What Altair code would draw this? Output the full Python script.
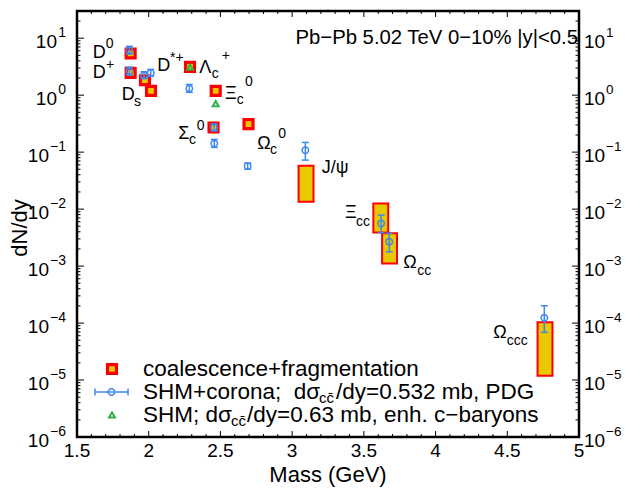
import altair as alt
import pandas as pd

# ---------------- data ----------------
# coalescence+fragmentation, single values (D0, D+, Ds, D*+, Lc, Xic0, Sigc0, Omc0)
coal_mass = [1.874, 1.874, 1.974, 2.016, 2.288, 2.467, 2.452, 2.696]
coal_val = [5.39, 2.46, 1.83, 1.19, 3.14, 1.19, 0.271, 0.31]

# coalescence+fragmentation, ranges (J/psi, Xicc, Omcc, Omccc)
box_mass = [3.097, 3.618, 3.679, 4.763]
box_lo = [0.0134, 0.0039, 0.00111, 1.19e-5]
box_hi = [0.0576, 0.0126, 0.00375, 1.03e-4]

# SHM+corona
shm_mass = [1.865, 1.865, 1.967, 2.014, 2.283, 2.457, 2.457, 2.690, 3.092, 3.620, 3.677, 4.758]
shm_val = [6.15, 2.64, 2.24, 2.46, 1.31, 0.271, 0.142, 0.0568, 0.108, 0.00561, 0.00267, 1.24e-4]
shm_lo = [5.25, 2.25, 1.95, 2.14, 1.12, 0.235, 0.121, 0.050, 0.0724, 0.00385, 0.00178, 6.87e-5]
shm_hi = [7.20, 3.10, 2.57, 2.83, 1.54, 0.312, 0.167, 0.0645, 0.148, 0.00785, 0.00375, 2.01e-4]

# SHM, enhanced c-baryons
enh_mass = [2.288, 2.467]
enh_val = [3.10, 0.71]

# particle labels
lab_text = ["D", "D", "D", "D", "Λ", "Ξ", "Σ", "Ω", "J/ψ", "Ξ", "Ω", "Ω"]
lab_mass = [1.609, 1.609, 1.812, 2.060, 2.353, 2.532, 2.206, 2.757, 3.206, 3.368, 3.775, 4.402]
lab_val = [5.46, 2.46, 1.01, 3.19, 2.94, 1.054, 0.207, 0.140, 0.0535, 0.00869, 0.001114, 6.68e-5]
sub_text = ["s", "c", "c", "c", "c", "cc", "cc", "ccc"]
sub_mass = [1.897, 2.439, 2.613, 2.281, 2.845, 3.445, 3.873, 4.496]
sub_val = [0.754, 2.37, 0.827, 0.1625, 0.107, 0.00598, 8.17e-4, 4.87e-5]
sup_text = ["0", "+", "*+", "+", "0", "0", "0"]
sup_mass = [1.700, 1.702, 2.148, 2.509, 2.671, 2.335, 2.903]
sup_val = [7.85, 3.36, 4.46, 4.87, 1.711, 0.2857, 0.207]

# axes
x_major = [1.5, 2, 2.5, 3, 3.5, 4, 4.5, 5]
x_labels = ["1.5", "2", "2.5", "3", "3.5", "4", "4.5", "5"]
x_minor = [round(1.5 + 0.1 * i, 2) for i in range(36) if i % 5 != 0]
y_exps = [-6, -5, -4, -3, -2, -1, 0, 1]
y_minor = [k * 10.0 ** e for e in range(-6, 2) for k in range(2, 10) if k * 10.0 ** e <= 30]

title_text = "Pb−Pb 5.02 TeV 0−10% |y|<0.5"
x_title = "Mass (GeV)"
y_title = "dN/dy"
leg_main = ["coalescence+fragmentation", "SHM+corona;\u00a0\u00a0dσ", "SHM; dσ"]
leg_sub = ["", "cc\u0304", "cc\u0304"]
leg_rest = ["", "/dy=0.532 mb, PDG", "/dy=0.63 mb, enh. c−baryons"]

# ---------------- styling ----------------
W, H = 502, 426
FONT = "Liberation Sans"
RED = "#ff0000"
YEL = "#e8c800"
BLUE = "#3f88f0"
GREEN = "#2fb24a"

xs = alt.Scale(domain=[1.5, 5], nice=False, zero=False)
ys = alt.Scale(type="log", domain=[1e-6, 30], nice=False)


def X(f):
    return alt.X(f, type="quantitative", scale=xs, axis=None)


def Y(f):
    return alt.Y(f, type="quantitative", scale=ys, axis=None)


one = pd.DataFrame({"a": [0]})


def txt(text, x, y, size, align="left", baseline="middle", angle=0):
    return alt.Chart(one).mark_text(
        text=text, font=FONT, fontSize=size, align=align, baseline=baseline,
        angle=angle, color="black"
    ).encode(x=alt.value(x), y=alt.value(y))


layers = []

# boxes
box_df = pd.DataFrame({"m": box_mass, "lo": box_lo, "hi": box_hi})
layers.append(
    alt.Chart(box_df)
    .transform_calculate(m1="datum.m - 0.052", m2="datum.m + 0.052")
    .mark_rect(fill=YEL, stroke=RED, strokeWidth=2)
    .encode(x=X("m1"), x2="m2", y=Y("lo"), y2="hi")
)

# coalescence squares
coal_df = pd.DataFrame({"m": coal_mass, "v": coal_val})
layers.append(
    alt.Chart(coal_df).mark_point(shape="square", filled=True, fill=YEL, stroke=RED,
                                   strokeWidth=3.2, size=80, opacity=1)
    .encode(x=X("m"), y=Y("v"))
)

# SHM+corona
shm_df = pd.DataFrame({"m": shm_mass, "v": shm_val, "lo": shm_lo, "hi": shm_hi})
layers.append(
    alt.Chart(shm_df).mark_rule(color=BLUE, strokeWidth=1.5)
    .encode(x=X("m"), y=Y("lo"), y2="hi")
)
layers.append(
    alt.Chart(shm_df).transform_fold(["lo", "hi"], as_=["k", "e"])
    .mark_tick(orient="horizontal", color=BLUE, thickness=1.5, size=7, opacity=1)
    .encode(x=X("m"), y=Y("e"))
)
layers.append(
    alt.Chart(shm_df).mark_point(shape="circle", filled=False, stroke=BLUE,
                                  strokeWidth=1.5, size=42, opacity=1)
    .encode(x=X("m"), y=Y("v"))
)

# SHM enh.
enh_df = pd.DataFrame({"m": enh_mass, "v": enh_val})
layers.append(
    alt.Chart(enh_df).mark_point(shape="triangle-up", filled=False, stroke=GREEN,
                                  strokeWidth=2, size=36, opacity=1)
    .encode(x=X("m"), y=Y("v"))
)

# particle labels
for t, m, v, fs in [(lab_text, lab_mass, lab_val, 18),
                    (sub_text, sub_mass, sub_val, 14),
                    (sup_text, sup_mass, sup_val, 14)]:
    df = pd.DataFrame({"t": t, "m": m, "v": v})
    layers.append(
        alt.Chart(df).mark_text(align="left", baseline="middle", font=FONT,
                                fontSize=fs, color="black")
        .encode(x=X("m"), y=Y("v"), text="t:N")
    )

# ticks (inward, on all four sides)
xmaj = pd.DataFrame({"v": x_major, "t": x_labels})
xmin = pd.DataFrame({"v": x_minor})
for df, ln in [(xmaj, 6), (xmin, 3)]:
    layers.append(alt.Chart(df).mark_rule(color="black", strokeWidth=1)
                  .encode(x=X("v"), y=alt.value(H), y2=alt.value(H - ln)))
    layers.append(alt.Chart(df).mark_rule(color="black", strokeWidth=1)
                  .encode(x=X("v"), y=alt.value(0), y2=alt.value(ln)))

# x tick labels
layers.append(alt.Chart(xmaj).mark_text(align="center", baseline="top", font=FONT,
                                        fontSize=19, color="black")
              .encode(x=X("v"), y=alt.value(H + 5), text="t:N"))

ylab = pd.DataFrame({"e": y_exps})
ymin = pd.DataFrame({"v": y_minor})
ymaj_chart = alt.Chart(ylab).transform_calculate(v="pow(10, datum.e)")
for base, ln in [(ymaj_chart, 7), (alt.Chart(ymin), 3.5)]:
    layers.append(base.mark_rule(color="black", strokeWidth=1)
                  .encode(y=Y("v"), x=alt.value(0), x2=alt.value(ln)))
    layers.append(base.mark_rule(color="black", strokeWidth=1)
                  .encode(y=Y("v"), x=alt.value(W), x2=alt.value(W - ln)))

# y tick labels 10^n, both sides
ylab_c = alt.Chart(ylab).transform_calculate(
    v="pow(10, datum.e)",
    s="datum.e < 0 ? '\u2212' + abs(datum.e) : '' + datum.e",
)
common = dict(font=FONT, color="black", baseline="middle")
layers.append(ylab_c.transform_filter("datum.e >= 0")
              .mark_text(align="right", fontSize=19, dy=4, text="10", **common)
              .encode(y=Y("v"), x=alt.value(-20)))
layers.append(ylab_c.transform_filter("datum.e < 0")
              .mark_text(align="right", fontSize=19, dy=4, text="10", **common)
              .encode(y=Y("v"), x=alt.value(-28)))
layers.append(ylab_c.mark_text(align="right", fontSize=14, dy=-5, **common)
              .encode(y=Y("v"), x=alt.value(-11), text="s:N"))
layers.append(ylab_c.mark_text(align="left", fontSize=19, dy=4, text="10", **common)
              .encode(y=Y("v"), x=alt.value(W + 5)))
layers.append(ylab_c.mark_text(align="left", fontSize=13.5, dy=-5, **common)
              .encode(y=Y("v"), x=alt.value(W + 27), text="s:N"))

# titles
layers.append(txt(title_text, W - 1, 27, 20.3, align="right"))
layers.append(txt(y_title, -57, 217, 22, align="center", angle=270))
layers.append(txt(x_title, W / 2, H + 38, 22, align="center"))

# legend
row_y = [358, 381, 404]
layers.append(alt.Chart(one).mark_point(shape="square", filled=True, fill=YEL, stroke=RED,
                                         strokeWidth=3.2, size=80, opacity=1)
              .encode(x=alt.value(35), y=alt.value(row_y[0])))
layers.append(alt.Chart(one).mark_rule(color=BLUE, strokeWidth=1.5)
              .encode(x=alt.value(18), x2=alt.value(51), y=alt.value(row_y[1])))
for cx in (18, 51):
    layers.append(alt.Chart(one).mark_rule(color=BLUE, strokeWidth=1.5)
                  .encode(x=alt.value(cx), y=alt.value(row_y[1] - 3.5),
                          y2=alt.value(row_y[1] + 3.5)))
layers.append(alt.Chart(one).mark_point(shape="circle", filled=False, stroke=BLUE,
                                         strokeWidth=1.5, size=42, opacity=1)
              .encode(x=alt.value(34.5), y=alt.value(row_y[1])))
layers.append(alt.Chart(one).mark_point(shape="triangle-up", filled=False, stroke=GREEN,
                                         strokeWidth=2, size=36, opacity=1)
              .encode(x=alt.value(35), y=alt.value(row_y[2])))

sub_x = [0, 242, 154]
rest_x = [0, 259, 170]
for i in range(3):
    layers.append(txt(leg_main[i], 66, row_y[i], 22.5))
    if leg_sub[i]:
        layers.append(txt(leg_sub[i], sub_x[i], row_y[i] + 6, 15))
        layers.append(txt(leg_rest[i], rest_x[i], row_y[i], 22.5))

chart = (
    alt.layer(*layers)
    .properties(width=W, height=H,
                autosize=alt.AutoSizeParams(type="none"),
                padding={"left": 69, "top": 3, "right": 44, "bottom": 50})
    .configure_view(stroke="black", strokeWidth=2.5)
)

chart.save("out.html", embed_options={"renderer": "svg", "actions": False})
